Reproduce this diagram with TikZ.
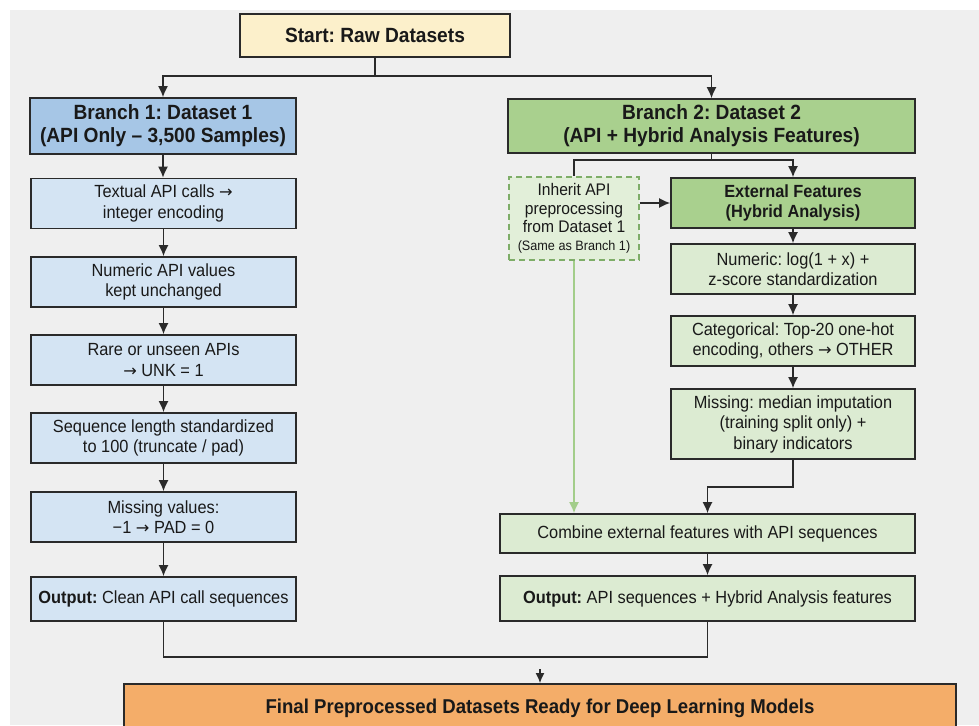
\documentclass[tikz,border=0pt]{standalone}
\usepackage{fontspec}
\setmainfont{Liberation Sans}[FakeStretch=0.93]
\newfontfamily\arrowfont{DejaVu Sans}[Scale=0.92]
\newcommand{\toarrow}{{\arrowfont →}}
\usetikzlibrary{arrows.meta,calc}

\definecolor{bgpaper}{HTML}{EFEFEF}
\definecolor{edge}{HTML}{2A2A2A}
\definecolor{startfill}{HTML}{FCF0CB}
\definecolor{bluehead}{HTML}{A6C6E6}
\definecolor{bluestep}{HTML}{D4E4F3}
\definecolor{greenhead}{HTML}{A9D08E}
\definecolor{greenstep}{HTML}{DCEBD2}
\definecolor{greenpale}{HTML}{E2EFD9}
\definecolor{greendash}{HTML}{7EAD68}
\definecolor{greenlink}{HTML}{A3CD8A}
\definecolor{finalfill}{HTML}{F4AD69}

\tikzset{
  boxbase/.style={draw=edge, line width=1.6pt, inner sep=2pt, align=center,
    text=black!90, font=\fontsize{17.6}{20.5}\selectfont},
  headbox/.style={boxbase, font=\fontsize{20.6}{23}\bfseries},
  bluestepbox/.style={boxbase, fill=bluestep, minimum width=265pt},
  greenstepbox/.style={boxbase, fill=greenstep, minimum width=244pt},
  link/.style={draw=edge, line width=1.6pt},
  arrowlink/.style={link, -{Latex[length=11pt,width=10pt]}},
}

\begin{document}
\frenchspacing
\begin{tikzpicture}[x=1pt, y=-1pt]
  \useasboundingbox (0,0) rectangle (979,725);
  \clip (0,0) rectangle (979,725);
  \fill[white] (0,0) rectangle (979,725);
  \fill[bgpaper] (10,10) rectangle (979,725);

  % start
  \node[headbox, fill=startfill, minimum width=270pt, minimum height=43pt]
    (start) at (375,35.5) {Start: Raw Datasets};

  % branch 1
  \node[headbox, fill=bluehead, minimum width=266pt, minimum height=56pt]
    (b1) at (163,126) {Branch 1: Dataset 1\\(API Only -- 3,500 Samples)};
  \node[bluestepbox, minimum height=50pt] (l1) at (163.5,203.5)
    {Textual API calls \toarrow\\integer encoding};
  \node[bluestepbox, minimum height=50pt] (l2) at (163.5,282)
    {Numeric API values\\kept unchanged};
  \node[bluestepbox, minimum height=50pt] (l3) at (163.5,360)
    {Rare or unseen APIs\\\toarrow{} UNK = 1};
  \node[bluestepbox, minimum height=50pt] (l4) at (163.5,438)
    {Sequence length standardized\\to 100 (truncate / pad)};
  \node[bluestepbox, minimum height=50pt] (l5) at (163.5,517)
    {Missing values:\\−1 \toarrow{} PAD = 0};
  \node[bluestepbox, minimum height=44pt] (l6) at (163.5,599)
    {\textbf{Output:} Clean API call sequences};

  % branch 2
  \node[headbox, fill=greenhead, minimum width=407pt, minimum height=54pt]
    (b2) at (711.5,126) {Branch 2: Dataset 2\\(API + Hybrid Analysis Features)};
  \node[boxbase, fill=greenpale, draw=greendash, dashed,
    dash pattern=on 6pt off 4pt, line width=1.4pt,
    minimum width=130pt, minimum height=83pt, inner sep=1pt,
    font=\fontsize{16.8}{18.5}\selectfont]
    (inh) at (574,218.5)
    {Inherit API\\preprocessing\\from Dataset 1\\[-1pt]{\fontsize{13.6}{15}\selectfont(Same as Branch 1)}};
  \node[boxbase, fill=greenhead, minimum width=244pt, minimum height=50pt,
    font=\fontsize{17.6}{20.5}\bfseries]
    (ext) at (793,203) {External Features\\(Hybrid Analysis)};
  \node[greenstepbox, minimum height=50pt] (num) at (793,269)
    {Numeric: log(1 + x) +\\z-score standardization};
  \node[greenstepbox, minimum height=50pt] (cat) at (793,341)
    {Categorical: Top-20 one-hot\\encoding, others \toarrow{} OTHER};
  \node[greenstepbox, minimum height=70pt] (miss) at (793,424)
    {Missing: median imputation\\(training split only) +\\binary indicators};
  \node[boxbase, fill=greenstep, minimum width=415pt, minimum height=39pt]
    (comb) at (707.5,533.5) {Combine external features with API sequences};
  \node[boxbase, fill=greenstep, minimum width=415pt, minimum height=45pt]
    (out2) at (707.5,598.5)
    {\textbf{Output:} API sequences + Hybrid Analysis features};

  % final
  \node[headbox, fill=finalfill, minimum width=832pt, minimum height=60pt,
    text depth=0pt, anchor=north, font=\fontsize{20}{23}\bfseries]
    (final) at (540,683)
    {\raisebox{16pt}{Final Preprocessed Datasets Ready for Deep Learning Models}};

  % split from start
  \coordinate (j0) at (375,76);
  \draw[link] (start.south) -- (j0);
  \draw[arrowlink] (j0) -| (b1.north);
  \draw[arrowlink] (j0) -| (b2.north);

  % branch 1 chain
  \draw[arrowlink] (b1.south) -- (b1.south |- l1.north);
  \draw[arrowlink] (l1.south) -- (l2.north);
  \draw[arrowlink] (l2.south) -- (l3.north);
  \draw[arrowlink] (l3.south) -- (l4.north);
  \draw[arrowlink] (l4.south) -- (l5.north);
  \draw[arrowlink] (l5.south) -- (l6.north);

  % branch 2 split
  \coordinate (j2) at (711.5,160);
  \draw[link] (b2.south) -- (j2);
  \draw[link] (j2) -| (inh.north);
  \draw[arrowlink] (j2) -| (ext.north);
  \draw[arrowlink] (ext.west -| inh.east) -- (ext.west);
  \draw[arrowlink] (ext.south) -- (num.north);
  \draw[arrowlink] (num.south) -- (cat.north);
  \draw[arrowlink] (cat.south) -- (miss.north);
  \coordinate (j3) at (707.5,487);
  \draw[arrowlink] (miss.south) |- (j3) -- (comb.north);
  \draw[link, draw=greenlink, -{Latex[length=11pt,width=10pt]}]
    (inh.south) -- (inh.south |- comb.north);
  \draw[arrowlink] (comb.south) -- (out2.north);

  % merge into final
  \coordinate (jb) at (540,657);
  \draw[link] (l6.south) |- (jb) -| (out2.south);
  \coordinate (ja) at (540,669);
  \draw[arrowlink, line width=1.2pt, -{Latex[length=10pt,width=9pt]}] (ja) -- (final.north);
\end{tikzpicture}
\end{document}
